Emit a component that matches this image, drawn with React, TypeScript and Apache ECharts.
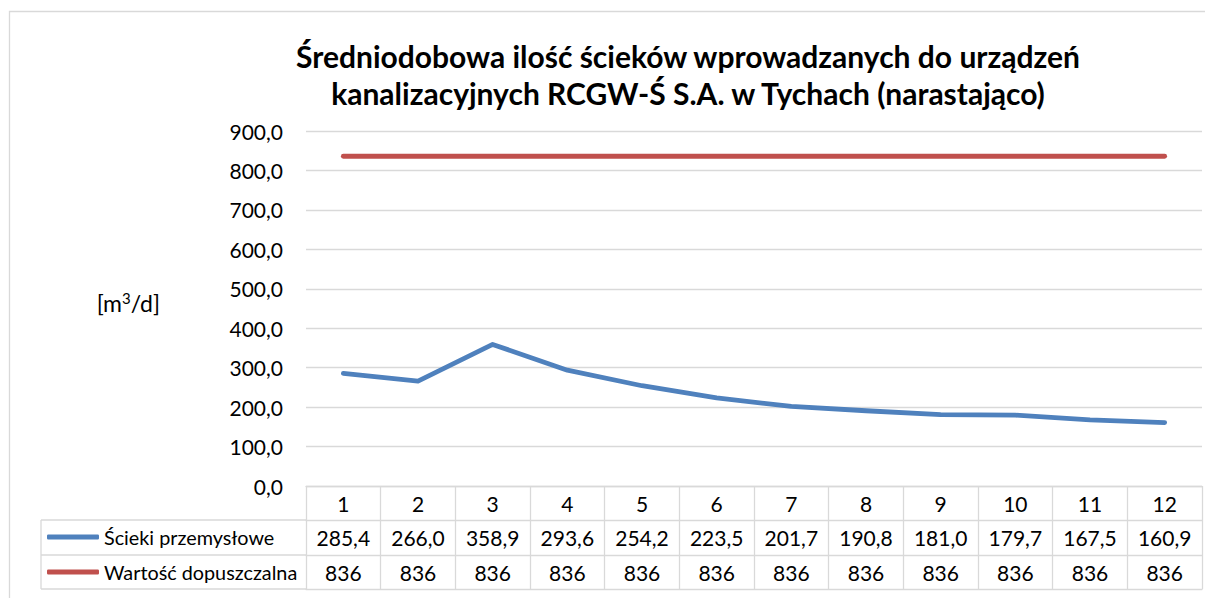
import React, { useEffect, useRef } from "react";
import * as echarts from "echarts";

const categories = ["1", "2", "3", "4", "5", "6", "7", "8", "9", "10", "11", "12"];
const industrialSewage = [285.4, 266.0, 358.9, 293.6, 254.2, 223.5, 201.7, 190.8, 181.0, 179.7, 167.5, 160.9];
const allowedValue = [836, 836, 836, 836, 836, 836, 836, 836, 836, 836, 836, 836];
const seriesNames = ["Ścieki przemysłowe", "Wartość dopuszczalna"];
const titleText = "Średniodobowa ilość ścieków wprowadzanych do urządzeń\nkanalizacyjnych RCGW-Ś S.A. w Tychach (narastająco)";

const FONT = "Lato";
const GRID_COLOR = "#d9d9d9";
const fmt1 = (v: number) => v.toFixed(1).replace(".", ",");

export default function App() {
  const ref = useRef<HTMLDivElement>(null);
  useEffect(() => {
    if (!ref.current) return;
    const chart = echarts.init(ref.current, undefined, { renderer: "svg" });
    const labelBase = { fontFamily: FONT, fontSize: 21, color: "#000" };
    const extraAxis = (offset: number, values: (string | number)[] | null) => ({
      type: "category",
      gridIndex: 0,
      position: "bottom",
      offset,
      data: categories,
      boundaryGap: true,
      axisLine: { show: true, lineStyle: { color: GRID_COLOR, width: 1.3 } },
      axisTick: { show: false },
      splitLine: { show: false },
      axisLabel: {
        show: values !== null,
        interval: 0,
        margin: 17,
        verticalAlign: "middle",
        ...labelBase,
        formatter: (_v: string, i: number) => (values ? String(values[i]) : ""),
      },
    });
    const legendText = { fontFamily: FONT, fontSize: 19.8, color: "#000", lineHeight: 24 };
    chart.setOption({
      animation: false,
      backgroundColor: "#fff",
      title: {
        text: titleText,
        left: 688,
        top: 37,
        padding: 0,
        textAlign: "center",
        textStyle: { fontFamily: FONT, fontWeight: "bold", fontSize: 30, lineHeight: 37, color: "#000" },
      },
      legend: [
        {
          data: [seriesNames[0]],
          left: 47,
          top: 525,
          padding: 0,
          icon: "roundRect",
          itemWidth: 52,
          itemHeight: 5,
          textStyle: legendText,
        },
        {
          data: [seriesNames[1]],
          left: 47,
          top: 560,
          padding: 0,
          icon: "roundRect",
          itemWidth: 52,
          itemHeight: 5,
          textStyle: legendText,
        },
      ],
      grid: { left: 306, right: 3, top: 131, bottom: 112, containLabel: false },
      xAxis: [
        {
          type: "category",
          data: categories,
          boundaryGap: true,
          axisLine: { show: true, lineStyle: { color: GRID_COLOR, width: 1.3 } },
          axisTick: { show: true, interval: 0, length: 103, lineStyle: { color: GRID_COLOR, width: 1.3 } },
          axisLabel: { interval: 0, margin: 17, verticalAlign: "middle", ...labelBase },
        },
        extraAxis(34, industrialSewage.map(fmt1)),
        extraAxis(69, allowedValue),
        extraAxis(103, null),
      ],
      yAxis: {
        type: "value",
        min: 0,
        max: 900,
        interval: 100,
        name: "[m{sup|3}/d]",
        nameLocation: "middle",
        nameRotate: 0,
        nameGap: 146,
        nameTextStyle: {
          ...labelBase,
          fontSize: 23,
          padding: [0, 0, 12, 0],
          rich: { sup: { fontFamily: FONT, fontSize: 15, color: "#000", verticalAlign: "top", padding: [0, 0, 9, 0] } },
        },
        axisLine: { show: false },
        axisTick: { show: false },
        axisLabel: { margin: 23, ...labelBase, formatter: (v: number) => fmt1(v) },
        splitLine: { lineStyle: { color: GRID_COLOR, width: 1.3 } },
      },
      series: [
        {
          name: seriesNames[0],
          type: "line",
          data: industrialSewage,
          color: "#4F81BD",
          showSymbol: false,
          symbol: "none",
          lineStyle: { width: 4.8, cap: "round", join: "round" },
        },
        {
          name: seriesNames[1],
          type: "line",
          data: allowedValue,
          color: "#C0504D",
          showSymbol: false,
          symbol: "none",
          lineStyle: { width: 4.8, cap: "round", join: "round" },
        },
      ],
      graphic: [
        {
          type: "rect",
          silent: true,
          shape: { x: 9.5, y: 11.5, width: 1210, height: 600 },
          style: { fill: "none", stroke: GRID_COLOR, lineWidth: 1.3 },
        },
        { type: "line", silent: true, shape: { x1: 41, y1: 520, x2: 306, y2: 520 }, style: { stroke: GRID_COLOR, lineWidth: 1.3 } },
        { type: "line", silent: true, shape: { x1: 41, y1: 555, x2: 306, y2: 555 }, style: { stroke: GRID_COLOR, lineWidth: 1.3 } },
        { type: "line", silent: true, shape: { x1: 41, y1: 589, x2: 306, y2: 589 }, style: { stroke: GRID_COLOR, lineWidth: 1.3 } },
        { type: "line", silent: true, shape: { x1: 41, y1: 520, x2: 41, y2: 589 }, style: { stroke: GRID_COLOR, lineWidth: 1.3 } },
      ],
    });
    return () => chart.dispose();
  }, []);
  return <div ref={ref} style={{ width: 1205, height: 598, position: "absolute", left: 0, top: 0 }} />;
}
